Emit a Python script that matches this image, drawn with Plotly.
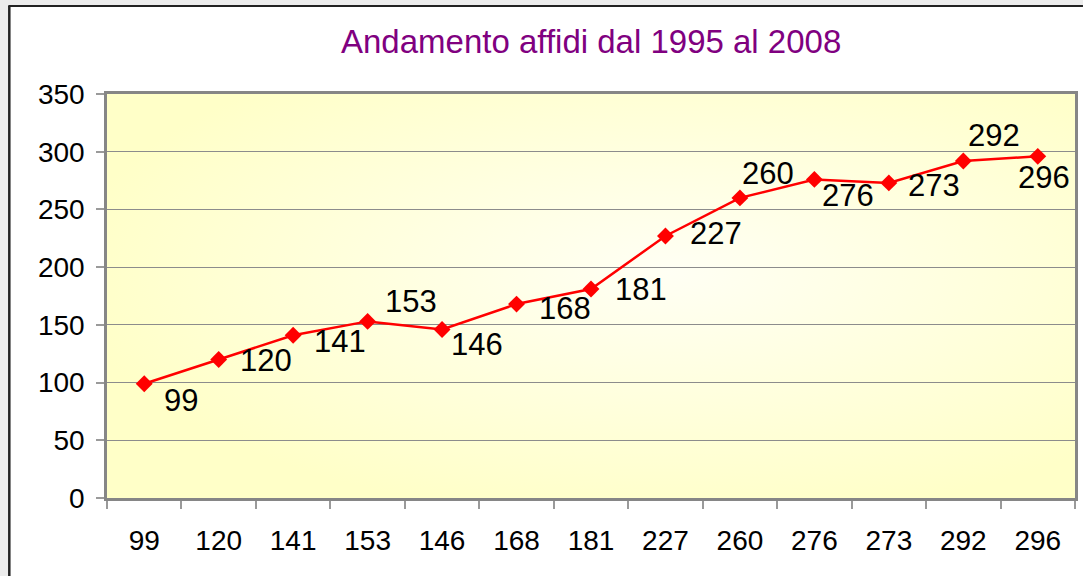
import base64
import plotly.graph_objects as go

# ---- data ----
categories = ["99", "120", "141", "153", "146", "168", "181", "227", "260", "276", "273", "292", "296"]
values = [99, 120, 141, 153, 146, 168, 181, 227, 260, 276, 273, 292, 296]
y_ticks = [0, 50, 100, 150, 200, 250, 300, 350]
title_text = "Andamento affidi dal 1995 al 2008"

# label placement (style): pixel shifts of each data label from its point
label_dx = [37, 47, 47, 43, 35, 48, 50, 51, 28, 34, 45, 31, 6]
label_dy = [17, 1, 6, -20, 15, 4, 0, -2, -24, 16, 3, -25, 21]

W, H = 1084, 576
ML, MR, MT, MB = 107, 6, 94, 78
PW, PH = W - ML - MR, H - MT - MB

def px_x(px):
    return (px - ML) / PW

def px_y(py):
    return (H - MB - py) / PH

FONT = "Liberation Sans, Arial, sans-serif"

svg = (
    '<svg xmlns="http://www.w3.org/2000/svg" width="971" height="404" preserveAspectRatio="none">'
    '<defs><radialGradient id="g" cx="0.58" cy="0.44" r="0.62" fx="0.58" fy="0.44">'
    '<stop offset="0" stop-color="#FFFFF4"/>'
    '<stop offset="1" stop-color="#FFFFC8"/>'
    '</radialGradient></defs>'
    '<rect x="0" y="0" width="971" height="404" fill="url(#g)"/></svg>'
)
svg_uri = "data:image/svg+xml;base64," + base64.b64encode(svg.encode()).decode()

fig = go.Figure()
fig.add_trace(go.Scatter(
    x=categories, y=values, mode="lines+markers",
    line=dict(color="#FF0000", width=2.5),
    marker=dict(symbol="diamond", size=13, color="#FF0000"),
    hoverinfo="skip", showlegend=False,
))

annotations = []
for i, (v, dx, dy) in enumerate(zip(values, label_dx, label_dy)):
    annotations.append(dict(
        x=i, y=v, xref="x", yref="y", text=str(v), showarrow=False,
        xshift=dx, yshift=-dy, font=dict(family=FONT, size=31, color="#000000"),
        xanchor="center", yanchor="middle",
    ))

annotations.append(dict(
    text=title_text, xref="paper", yref="paper", x=0.5, y=px_y(41),
    xanchor="center", yanchor="middle", showarrow=False,
    font=dict(family=FONT, size=33, color="#800080"),
))

shapes = [
    # outer textured strip (left/top)
    dict(type="rect", xref="paper", yref="paper", x0=px_x(-2), x1=px_x(8), y0=px_y(H + 2), y1=px_y(-2),
         fillcolor="#ECECEC", line=dict(width=0), layer="below"),
    dict(type="rect", xref="paper", yref="paper", x0=px_x(-2), x1=px_x(W + 2), y0=px_y(5), y1=px_y(-2),
         fillcolor="#ECECEC", line=dict(width=0), layer="below"),
    # black frame lines
    dict(type="line", xref="paper", yref="paper", x0=px_x(9), x1=px_x(9), y0=px_y(H + 2), y1=px_y(6),
         line=dict(color="#222222", width=2.5)),
    dict(type="line", xref="paper", yref="paper", x0=px_x(8), x1=px_x(W + 2), y0=px_y(6), y1=px_y(6),
         line=dict(color="#222222", width=2)),
]

fig.update_layout(
    width=W, height=H,
    margin=dict(l=ML, r=MR, t=MT, b=MB, pad=0),
    paper_bgcolor="#FFFFFF",
    plot_bgcolor="rgba(0,0,0,0)",
    font=dict(family=FONT, color="#000000"),
    annotations=annotations,
    shapes=shapes,
    images=[dict(source=svg_uri, xref="paper", yref="paper", x=0, y=1, sizex=1, sizey=1,
                 sizing="stretch", xanchor="left", yanchor="top", layer="below")],
    xaxis=dict(
        type="category", categoryorder="array", categoryarray=categories,
        range=[-0.5, len(categories) - 0.5],
        showgrid=False, zeroline=False,
        showline=True, mirror=True, linecolor="#868686", linewidth=2.5,
        ticks="outside", tickson="boundaries", ticklen=8, tickcolor="#9a9a9a", tickwidth=1.5,
        tickfont=dict(family=FONT, size=28, color="#000000"),
        ticklabelstandoff=16,
    ),
    yaxis=dict(
        range=[0, 350], tickvals=y_ticks, ticktext=[str(t) for t in y_ticks],
        showgrid=True, gridcolor="#8C8C8C", gridwidth=1.2, zeroline=False,
        showline=True, mirror=True, linecolor="#868686", linewidth=2.5,
        ticks="outside", ticklen=8, tickcolor="#9a9a9a", tickwidth=1.5,
        tickfont=dict(family=FONT, size=28, color="#000000"),
        ticklabelstandoff=6,
    ),
)

fig.write_html("out.html", config={"displayModeBar": False},
               post_script="document.body.style.margin='0';document.body.style.overflow='hidden';")
